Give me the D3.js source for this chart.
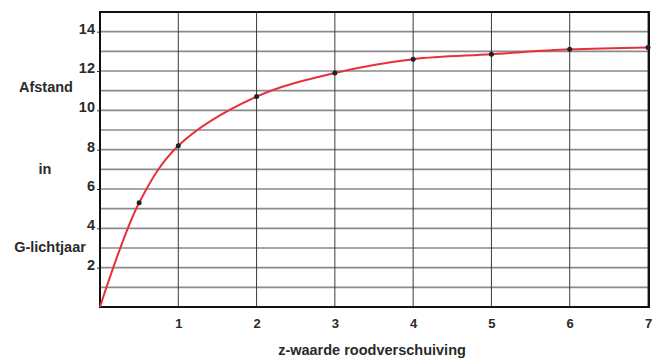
<!DOCTYPE html>
<html>
<head>
<meta charset="utf-8">
<script src="https://cdn.jsdelivr.net/npm/d3@7"></script>
<style>
  body { margin: 0; background: #fff; }
  text { font-family: "Liberation Sans", Arial, sans-serif; fill: #2a2a2a; }
</style>
</head>
<body>
<svg id="chart"></svg>
<script>
// Data
const zValues = [0, 0.5, 1, 2, 3, 4, 5, 6, 7];
const distances = [0, 5.3, 8.2, 10.7, 11.9, 12.6, 12.85, 13.1, 13.2];
const xTicks = [1, 2, 3, 4, 5, 6, 7];
const yTicks = [2, 4, 6, 8, 10, 12, 14];
const yGrid = d3.range(1, 15);
const yLabelLines = ["Afstand", "in", "G-lichtjaar"];

const width = 654, height = 360;
const margin = {top: 12, right: 5, bottom: 53, left: 100};
const w = width - margin.left - margin.right;
const h = height - margin.top - margin.bottom;

const svg = d3.select('#chart')
    .attr('width', width)
    .attr('height', height);

const chart = svg.append('g')
    .attr('transform', `translate(${margin.left},${margin.top})`);

const x = d3.scaleLinear().domain([0, 7]).range([0, 548]);
const y = d3.scaleLinear().domain([0, 15]).range([h, 0]);

// horizontal grid
chart.append('g')
  .selectAll('line')
  .data(yGrid)
  .join('line')
    .attr('x1', 0)
    .attr('x2', w)
    .attr('y1', d => y(d))
    .attr('y2', d => y(d))
    .attr('stroke', '#8a8a8a')
    .attr('stroke-width', 1.6);

// vertical grid
chart.append('g')
  .selectAll('line')
  .data(xTicks)
  .join('line')
    .attr('x1', d => x(d))
    .attr('x2', d => x(d))
    .attr('y1', 0)
    .attr('y2', h)
    .attr('stroke', '#3a3a3a')
    .attr('stroke-width', 1);

// frame
chart.append('rect')
    .attr('width', w)
    .attr('height', h)
    .attr('fill', 'none')
    .attr('stroke', '#111')
    .attr('stroke-width', 2);

// axes
const yAxis = d3.axisLeft(y).tickValues(yTicks).tickFormat(d3.format('d')).tickSize(3).tickPadding(2);
const yAxisG = chart.append('g').call(yAxis);
yAxisG.select('.domain').remove();
yAxisG.selectAll('line').attr('stroke', '#333');
yAxisG.selectAll('text')
    .attr('font-family', '"Liberation Sans", Arial, sans-serif')
    .attr('font-size', 14.5)
    .attr('font-weight', 'bold')
    .attr('fill', '#333')
    .attr('dy', '0.1em');

const xAxis = d3.axisBottom(x).tickValues(xTicks).tickFormat(d3.format('d')).tickSize(0).tickPadding(12);
const xAxisG = chart.append('g')
    .attr('transform', `translate(0,${h})`)
    .call(xAxis);
xAxisG.select('.domain').remove();
xAxisG.selectAll('text')
    .attr('font-family', '"DejaVu Sans", Verdana, sans-serif')
    .attr('font-size', 13)
    .attr('font-weight', 'bold')
    .attr('fill', '#333');

// curve
const line = d3.line()
    .x((d, i) => x(zValues[i]))
    .y(d => y(d))
    .curve(d3.curveCatmullRom);

chart.append('path')
    .datum(distances)
    .attr('d', line)
    .attr('fill', 'none')
    .attr('stroke', '#e8303c')
    .attr('stroke-width', 2);

// points
chart.append('g')
  .selectAll('circle')
  .data(distances.slice(1))
  .join('circle')
    .attr('cx', (d, i) => x(zValues[i + 1]))
    .attr('cy', d => y(d))
    .attr('r', 2.5)
    .attr('fill', '#222');

// axis titles
const yTitlePos = [92, 174, 252];
const yTitleX = [46, 45, 50];
svg.append('g')
  .selectAll('text')
  .data(yLabelLines)
  .join('text')
    .attr('x', (d, i) => yTitleX[i])
    .attr('y', (d, i) => yTitlePos[i])
    .attr('text-anchor', 'middle')
    .attr('font-size', 14.5)
    .attr('font-weight', 'bold')
    .attr('fill', '#333')
    .text(d => d);

svg.append('text')
    .attr('x', 372)
    .attr('y', 355)
    .attr('text-anchor', 'middle')
    .attr('font-family', '"DejaVu Sans", Verdana, sans-serif')
    .attr('font-size', 14.5)
    .attr('font-weight', 'bold')
    .attr('fill', '#333')
    .text('z-waarde roodverschuiving');
</script>
</body>
</html>
